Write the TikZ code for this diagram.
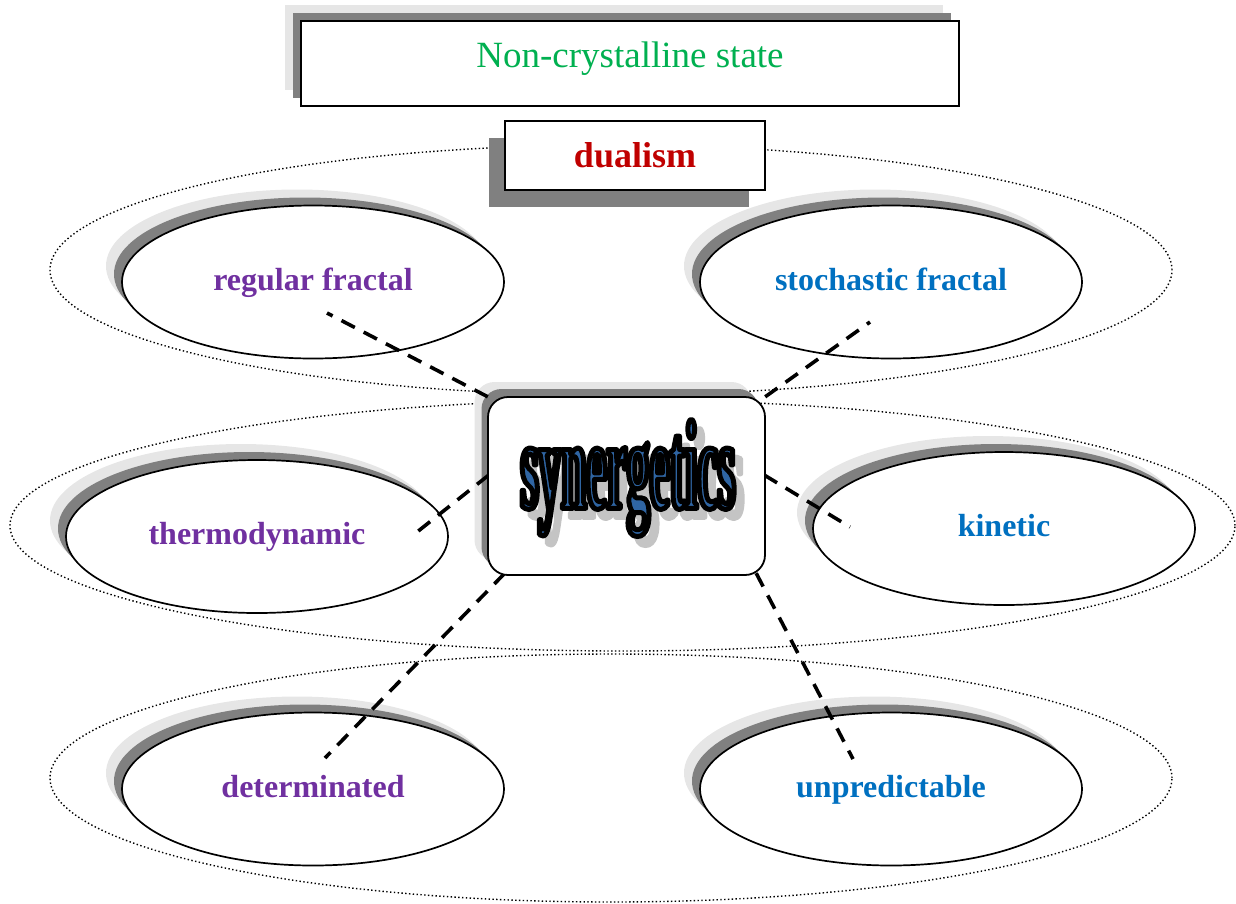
\documentclass[tikz,border=0pt]{standalone}
\usepackage{fontspec}
\setmainfont{Liberation Serif}
\newfontfamily\wordfont{Liberation Serif}[FakeStretch=0.355]
\usetikzlibrary{shapes.geometric,shadows,calc}

\definecolor{ttlgreen}{HTML}{00B050}
\definecolor{dualred}{HTML}{C00000}
\definecolor{lblpurple}{HTML}{7030A0}
\definecolor{lblblue}{HTML}{0070C0}
\definecolor{shdark}{HTML}{808080}
\definecolor{shlight}{HTML}{E6E6E6}
\definecolor{wordblue}{HTML}{2F65A3}
\definecolor{wordshade}{HTML}{C4C4C4}

% condensed headline word, filled with #1 and stroked with the rgb triple #2
\newcommand\strokedword[2]{{\color{#1}%
  \special{pdf:literal direct #2 RG 5 w 1 j 2 Tr}%
  \fontsize{128}{130}\wordfont\bfseries synergetics%
  \special{pdf:literal direct 0 Tr}}}

\tikzset{
  dotring/.style={ellipse, draw=black, line width=1.4pt,
    dash pattern=on 1.4pt off 2.4pt, inner sep=0pt},
  twoshadow/.style={
    general shadow={shadow xshift=-16pt, shadow yshift=16pt, fill=shlight, draw=none},
    general shadow={shadow xshift=-8pt, shadow yshift=8pt, fill=shdark, draw=none}},
  topic/.style={ellipse, draw=black, line width=1.7pt, fill=white,
    minimum width=382pt, minimum height=153pt, inner sep=0pt,
    font=\fontsize{32}{36}\selectfont\bfseries,
    text height=22pt, text depth=6pt, twoshadow},
  link/.style={draw=black, line width=3.6pt, dash pattern=on 15pt off 10pt},
  wordnode/.style={inner sep=0pt, anchor=center},
}

\begin{document}
\begin{tikzpicture}[x=1pt,y=-1pt]
\useasboundingbox (0,0) rectangle (1236,903);

% dotted rings grouping the pairs
\node[dotring, minimum width=1122pt, minimum height=250pt] (ring-top) at (611,270) {};
\node[dotring, minimum width=1225pt, minimum height=251pt] (ring-mid) at (622.5,525.5) {};
\node[dotring, minimum width=1122pt, minimum height=248pt] (ring-bot) at (611,778) {};

% title and the dualism tag
\node[draw=black, line width=1.8pt, fill=white,
  minimum width=658pt, minimum height=85pt, inner sep=0pt,
  text height=26pt, text depth=19pt,
  font=\fontsize{37}{42}\selectfont, text=ttlgreen, twoshadow] (title) at (630,63.5) {Non-crystalline state};

\node[draw=black, line width=1.8pt, fill=white,
  minimum width=260pt, minimum height=69pt, inner sep=0pt,
  text height=25pt, text depth=2pt,
  font=\fontsize{36}{40}\selectfont\bfseries, text=dualred,
  general shadow={shadow xshift=-16pt, shadow yshift=-17pt, fill=shdark, draw=none}] (dual) at (635,155.5) {dualism};

% the six topic ellipses
\node[topic, text=lblpurple] (rf) at (313,282) {regular fractal};
\node[topic, text=lblblue]   (sf) at (891,282) {stochastic fractal};
\node[topic, text=lblpurple] (th) at (257,536.5) {thermodynamic};
\node[topic, text=lblblue]   (ki) at (1004,528.5) {kinetic};
\node[topic, text=lblpurple] (de) at (313,789) {determinated};
\node[topic, text=lblblue]   (un) at (891,789) {unpredictable};

% shadow of the central box, drawn before the links
\fill[shlight, rounded corners=20pt] (474.5,382) rectangle (751.5,560);
\fill[shdark, rounded corners=20pt] (481.5,389) rectangle (758.5,567);

% inner ends of the links
\coordinate (rf-tip) at ($(rf)+(14,31)$);
\coordinate (sf-tip) at ($(sf)+(-21,40)$);
\coordinate (th-tip) at ($(th)+(155,-0.5)$);
\coordinate (ki-tip) at ($(ki)+(-154,-1.5)$);
\coordinate (de-tip) at ($(de)+(12,-31)$);
\coordinate (un-tip) at ($(un)+(-38,-30)$);

% central box outline, used for the link ends
\path (626.5,486) node[minimum width=277pt, minimum height=178pt, inner sep=0pt] (syn) {};

% dashed links from the central box
\draw[link] (syn.north west) -- (rf-tip);
\draw[link] (syn.north east) -- (sf-tip);
\draw[link] ($(syn.west)+(1,-11)$) -- (th-tip);
\draw[link] ($(syn.east)+(-1,-11)$) -- (ki-tip);
\draw[link] ($(syn.south west)+(17,-2)$) -- (de-tip);
\draw[link] ($(syn.south east)+(-9,-2)$) -- (un-tip);

% box face over the link ends
\node[draw=black, line width=1.8pt, fill=white, rounded corners=20pt,
  minimum width=277pt, minimum height=178pt, inner sep=0pt] (syn-face) at (syn) {};

% headline word: grey cast, then blue face with black outline
\coordinate (word) at (628,478);
\node[wordnode] (word-shade) at ($(word)+(8,9)$) {\strokedword{wordshade}{0.77 0.77 0.77}};
\node[wordnode] (word-face) at (word) {\strokedword{wordblue}{0 0 0}};
\end{tikzpicture}
\end{document}
